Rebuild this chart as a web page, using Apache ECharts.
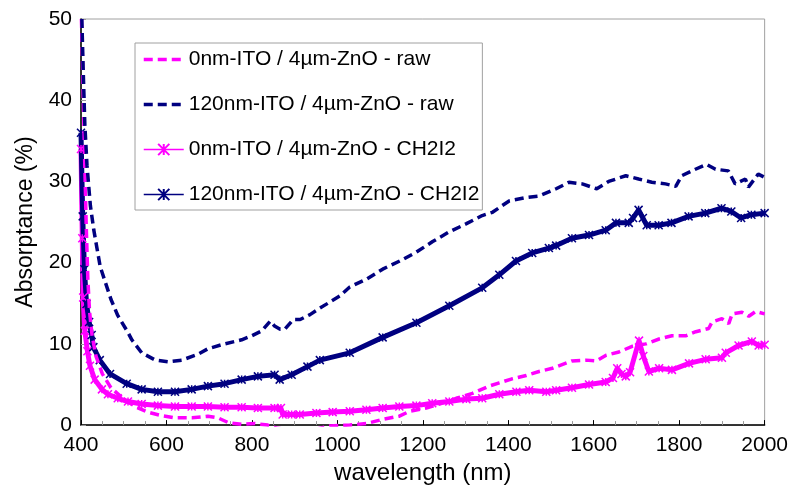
<!DOCTYPE html>
<html>
<head>
<meta charset="utf-8">
<script src="https://cdn.jsdelivr.net/npm/echarts@6/dist/echarts.min.js"></script>
<style>
html,body{margin:0;padding:0;background:#fff;}
#chart{width:791px;height:490px;}
</style>
</head>
<body>
<div id="chart"></div>
<script>
// ---- Data ----
var seriesNames = [
  '0nm-ITO / 4µm-ZnO - raw',
  '120nm-ITO / 4µm-ZnO - raw',
  '0nm-ITO / 4µm-ZnO - CH2I2',
  '120nm-ITO / 4µm-ZnO - CH2I2'
];

var raw0_wl = [401,404,408,412,416,420,426,435,450,470,500,530,556,586,620,660,697,720,745,776,806,837,860,900,950,982,1029,1068,1106,1145,1169,1208,1239,1278,1316,1355,1379,1409,1442,1472,1503,1549,1582,1606,1629,1659,1690,1722,1753,1783,1815,1839,1869,1877,1900,1916,1924,1947,1963,1979,2000];
var raw0_abs = [50,44,34,25,18,14,11,8.5,6.3,4.6,3.2,2.2,1.6,1.2,0.9,0.9,1.1,0.9,0.3,0.1,0.2,0.0,-0.4,-0.6,-0.5,-0.1,0.0,0.2,0.7,1.1,1.7,2.1,2.6,3.3,3.9,4.8,5.2,5.7,6.1,6.6,7.0,7.9,8.0,7.9,8.6,9.0,9.7,10.0,10.6,11.0,11.0,11.5,11.9,12.7,13.1,12.5,13.7,13.9,13.4,14.0,13.7];

var raw120_wl = [402,405,409,414,422,430,445,470,486,510,519,542,574,604,636,673,697,736,776,800,823,843,853,866,877,897,913,936,959,1006,1029,1069,1106,1146,1185,1223,1262,1302,1339,1363,1402,1440,1472,1512,1542,1573,1607,1635,1675,1705,1736,1768,1792,1806,1838,1864,1885,1915,1931,1955,1962,1985,2000];
var raw120_abs = [50,44,37,32,27,24,19.5,15.5,13.5,11.4,10.5,8.9,8.0,7.8,8.0,8.7,9.4,10.0,10.5,11.0,11.6,12.8,12.2,11.8,11.8,13.0,13.0,13.6,14.4,15.9,17.0,18.0,19.2,20.2,21.3,22.6,23.8,24.8,25.8,26.2,27.6,28.0,28.2,29.1,29.9,29.7,29.1,30.0,30.7,30.3,29.9,29.7,29.4,30.7,31.5,32.1,31.5,31.3,29.7,30.3,29.3,30.9,30.5];

var ch0_wl = [400,403,405,409,415,421,432,449,463,486,510,542,580,620,659,697,736,776,814,853,868,872,893,912,951,989,1029,1068,1106,1145,1185,1222,1262,1302,1339,1379,1419,1449,1489,1512,1549,1589,1628,1645,1655,1665,1675,1685,1706,1716,1729,1753,1783,1823,1862,1900,1909,1939,1970,1986,2000];
var ch0_abs = [34,23,15.7,11.6,9.1,7.3,5.6,4.4,3.8,3.3,2.9,2.6,2.4,2.3,2.3,2.3,2.2,2.2,2.1,2.1,2.1,1.3,1.3,1.3,1.5,1.6,1.7,1.9,2.1,2.3,2.4,2.7,2.9,3.2,3.3,3.8,4.1,4.3,4.1,4.3,4.6,5.0,5.3,5.8,7.0,6.3,6.0,6.5,10.4,8.5,6.6,7.0,6.8,7.6,8.1,8.3,8.9,9.8,10.3,9.8,9.9];

var ch120_wl = [400,404,408,413,419,425,429,444,468,507,542,580,620,659,697,736,776,814,853,865,893,930,959,1029,1106,1185,1262,1339,1379,1418,1456,1495,1512,1549,1589,1628,1652,1682,1692,1705,1715,1724,1752,1782,1822,1861,1899,1922,1945,1969,2000];
var ch120_abs = [36,25.7,19.2,14.9,12.7,11.1,9.6,8.0,6.3,5.1,4.4,4.1,4.1,4.4,4.8,5.1,5.6,6.0,6.2,5.6,6.2,7.2,8.0,8.9,10.8,12.6,14.7,16.9,18.5,20.2,21.2,21.8,22.1,23.0,23.4,24.0,24.9,24.9,25.5,26.5,25.5,24.6,24.6,24.9,25.7,26.1,26.7,26.3,25.5,25.9,26.1];

var xTicks = [400,600,800,1000,1200,1400,1600,1800,2000];
var yTicks = [0,10,20,30,40,50];

function pairs(xs, ys){ return xs.map(function(x,i){ return [x, ys[i]]; }); }

var MAGENTA = '#FF00FF';
var NAVY = '#000080';
var STAR = 'path://M0,0L10,10M10,0L0,10M5,0L5,10';
var FONT = "'Liberation Sans', Arial, sans-serif";

var chart = echarts.init(document.getElementById('chart'), null, {renderer:'canvas'});
chart.setOption({
  animation: false,
  backgroundColor: '#fff',
  grid: {left: 81, top: 19, right: 25, bottom: 61, show: true, borderColor: '#a0a0a0', borderWidth: 1, backgroundColor: 'transparent'},
  legend: {
    orient: 'vertical', left: 135, top: 43,
    padding: [6, 3, 5, 7],
    itemWidth: 40, itemHeight: 14, itemGap: 24,
    borderColor: '#a0a0a0', borderWidth: 1, backgroundColor: '#fff',
    textStyle: {fontFamily: FONT, fontSize: 21, color: '#000'},
    data: [
      {name: seriesNames[0], itemStyle: {opacity: 0}, lineStyle: {width: 3.5}},
      {name: seriesNames[1], itemStyle: {opacity: 0}, lineStyle: {width: 3.5}},
      {name: seriesNames[2], lineStyle: {width: 1.5}},
      {name: seriesNames[3], lineStyle: {width: 1.5}}
    ]
  },
  xAxis: {
    type: 'value', min: 400, max: 2000, interval: 200,
    name: 'wavelength (nm)', nameLocation: 'middle', nameGap: 31,
    nameTextStyle: {fontFamily: FONT, fontSize: 24, color: '#000'},
    axisLine: {show: true, lineStyle: {color: '#000', width: 1.5}},
    axisTick: {show: true, inside: true, length: 5, lineStyle: {color: '#000'}},
    minorTick: {show: true, splitNumber: 4, length: 4, lineStyle: {color: '#999'}},
    axisLabel: {fontFamily: FONT, fontSize: 21, color: '#000', margin: 10,
      formatter: function(v){ return xTicks.indexOf(v) >= 0 ? String(v) : ''; }},
    splitLine: {show: false}
  },
  yAxis: {
    type: 'value', min: 0, max: 50, interval: 10,
    name: 'Absorptance (%)', nameLocation: 'middle', nameGap: 44,
    nameTextStyle: {fontFamily: FONT, fontSize: 23, color: '#000'},
    axisLine: {show: true, lineStyle: {color: '#000', width: 1.5}},
    axisTick: {show: true, inside: true, length: 5, lineStyle: {color: '#999'}},
    axisLabel: {fontFamily: FONT, fontSize: 21, color: '#000', margin: 9,
      formatter: function(v){ return yTicks.indexOf(v) >= 0 ? String(v) : ''; }},
    splitLine: {show: false}
  },
  series: [
    {
      name: seriesNames[0], type: 'line', data: pairs(raw0_wl, raw0_abs),
      showSymbol: false, symbol: 'none', z: 3,
      lineStyle: {color: MAGENTA, width: 3.5, type: [9,5]},
      itemStyle: {color: MAGENTA}
    },
    {
      name: seriesNames[1], type: 'line', data: pairs(raw120_wl, raw120_abs),
      showSymbol: false, symbol: 'none', z: 3,
      lineStyle: {color: NAVY, width: 3.5, type: [9,5]},
      itemStyle: {color: NAVY}
    },
    {
      name: seriesNames[2], type: 'line', data: pairs(ch0_wl, ch0_abs),
      symbol: STAR, symbolSize: 8, showAllSymbol: true, z: 2,
      lineStyle: {color: MAGENTA, width: 5},
      itemStyle: {color: MAGENTA, borderColor: MAGENTA, borderWidth: 1.5}
    },
    {
      name: seriesNames[3], type: 'line', data: pairs(ch120_wl, ch120_abs),
      symbol: STAR, symbolSize: 8, showAllSymbol: true, z: 2,
      lineStyle: {color: NAVY, width: 5},
      itemStyle: {color: NAVY, borderColor: NAVY, borderWidth: 1.5}
    }
  ]
});
</script>
</body>
</html>
